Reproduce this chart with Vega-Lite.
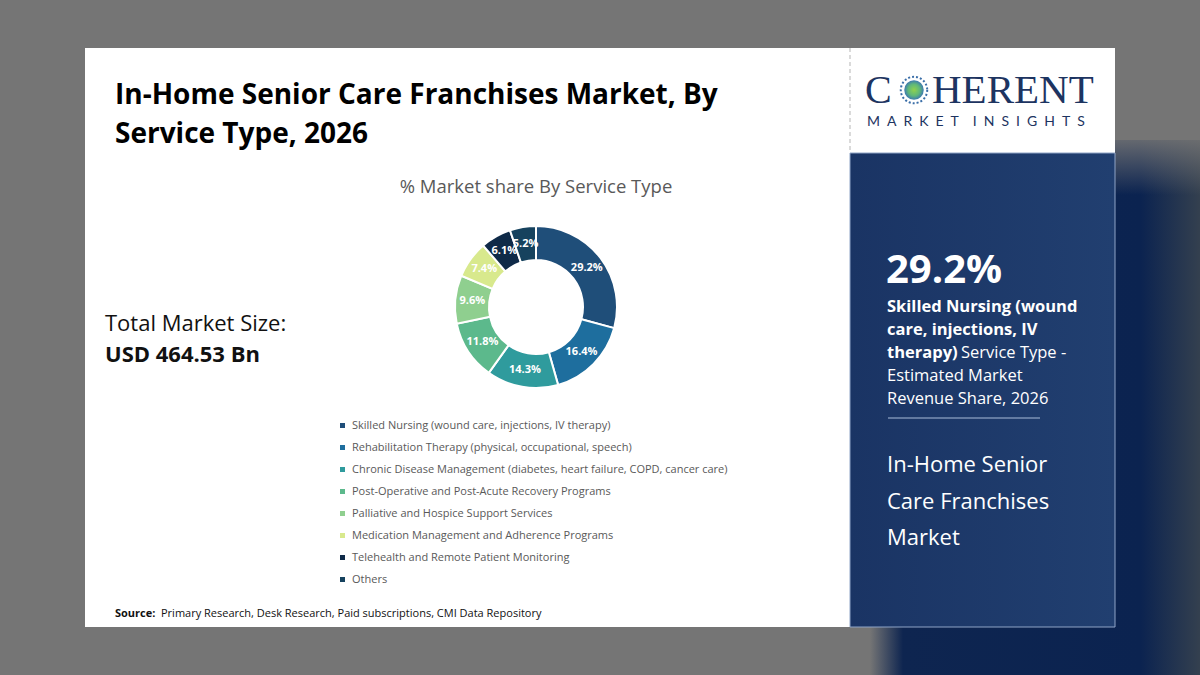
{
  "$schema": "https://vega.github.io/schema/vega-lite/v6.json",
  "width": 1200,
  "height": 675,
  "autosize": {"type": "fit", "contains": "padding"},
  "padding": 0,
  "background": "#757575",
  "config": {"view": {"stroke": null}, "axis": {"disable": true}, "font": "Open Sans"},
  "datasets": {
    "shares": [
      {"service": "Skilled Nursing (wound care, injections, IV therapy)", "share": 29.2, "label": "29.2%", "order": 1},
      {"service": "Rehabilitation Therapy (physical, occupational, speech)", "share": 16.4, "label": "16.4%", "order": 2},
      {"service": "Chronic Disease Management (diabetes, heart failure, COPD, cancer care)", "share": 14.3, "label": "14.3%", "order": 3},
      {"service": "Post-Operative and Post-Acute Recovery Programs", "share": 11.8, "label": "11.8%", "order": 4},
      {"service": "Palliative and Hospice Support Services", "share": 9.6, "label": "9.6%", "order": 5},
      {"service": "Medication Management and Adherence Programs", "share": 7.4, "label": "7.4%", "order": 6},
      {"service": "Telehealth and Remote Patient Monitoring", "share": 6.1, "label": "6.1%", "order": 7},
      {"service": "Others", "share": 5.2, "label": "5.2%", "order": 8}
    ],
    "one": [{}]
  },
  "layer": [
    {
      "data": {"name": "one"},
      "mark": {"type": "rect", "fill": {"gradient": "linear", "x1": 0, "y1": 0, "x2": 1, "y2": 0, "stops": [
        {"offset": 0, "color": "#757575"}, {"offset": 0.1, "color": "#0e2550"}, {"offset": 0.82, "color": "#0b2350"}, {"offset": 1, "color": "#34404f"}]}},
      "encoding": {
        "x": {"datum": 870, "type": "quantitative", "scale": {"domain": [0, 1200], "nice": false, "zero": false}},
        "x2": {"datum": 1200},
        "y": {"datum": 140, "type": "quantitative", "scale": {"domain": [0, 675], "nice": false, "zero": false, "reverse": true}},
        "y2": {"datum": 675}
      }
    },
    {
      "data": {"name": "one"},
      "mark": {"type": "rect", "fill": {"gradient": "linear", "x1": 0, "y1": 0, "x2": 0, "y2": 1, "stops": [
        {"offset": 0, "color": "#757575"}, {"offset": 1, "color": "rgba(117,117,117,0)"}]}},
      "encoding": {
        "x": {"datum": 870, "type": "quantitative", "scale": {"domain": [0, 1200], "nice": false, "zero": false}},
        "x2": {"datum": 1200},
        "y": {"datum": 130, "type": "quantitative", "scale": {"domain": [0, 675], "nice": false, "zero": false, "reverse": true}},
        "y2": {"datum": 195}
      }
    },
    {
      "data": {"name": "one"},
      "mark": {"type": "rect", "fill": "#ffffff"},
      "encoding": {
        "x": {"datum": 85, "type": "quantitative", "scale": {"domain": [0, 1200], "nice": false, "zero": false}},
        "x2": {"datum": 1115},
        "y": {"datum": 48, "type": "quantitative", "scale": {"domain": [0, 675], "nice": false, "zero": false, "reverse": true}},
        "y2": {"datum": 627}
      }
    },
    {
      "data": {"name": "one"},
      "mark": {"type": "rect", "stroke": "#8fa4c6", "strokeWidth": 1, "fill": {"gradient": "linear", "x1": 0, "y1": 0, "x2": 1, "y2": 0, "stops": [
        {"offset": 0, "color": "#1a3464"}, {"offset": 1, "color": "#213f70"}]}},
      "encoding": {
        "x": {"datum": 850, "type": "quantitative", "scale": {"domain": [0, 1200], "nice": false, "zero": false}},
        "x2": {"datum": 1115},
        "y": {"datum": 153, "type": "quantitative", "scale": {"domain": [0, 675], "nice": false, "zero": false, "reverse": true}},
        "y2": {"datum": 627}
      }
    },
    {
      "data": {"name": "one"},
      "mark": {"type": "rule", "color": "#b5b5b5", "strokeDash": [4, 3], "strokeWidth": 1},
      "encoding": {
        "x": {"datum": 850, "type": "quantitative", "scale": {"domain": [0, 1200], "nice": false, "zero": false}},
        "y": {"datum": 48, "type": "quantitative", "scale": {"domain": [0, 675], "nice": false, "zero": false, "reverse": true}},
        "y2": {"datum": 153}
      }
    },
    {
      "data": {"name": "one"},
      "mark": {"type": "text", "text": ["In-Home Senior Care Franchises Market, By", "Service Type, 2026"], "lineHeight": 39, "align": "left", "baseline": "alphabetic", "fontSize": 28, "fontWeight": "bold", "color": "#000000"},
      "encoding": {
        "x": {"datum": 115, "type": "quantitative", "scale": {"domain": [0, 1200], "nice": false, "zero": false}},
        "y": {"datum": 104, "type": "quantitative", "scale": {"domain": [0, 675], "nice": false, "zero": false, "reverse": true}}
      }
    },
    {
      "data": {"name": "one"},
      "mark": {"type": "text", "text": "% Market share By Service Type", "align": "center", "baseline": "alphabetic", "fontSize": 18.5, "color": "#595959"},
      "encoding": {
        "x": {"datum": 536, "type": "quantitative", "scale": {"domain": [0, 1200], "nice": false, "zero": false}},
        "y": {"datum": 193, "type": "quantitative", "scale": {"domain": [0, 675], "nice": false, "zero": false, "reverse": true}}
      }
    },
    {
      "data": {"name": "shares"},
      "mark": {"type": "arc", "innerRadius": 47, "outerRadius": 81, "stroke": "#ffffff", "strokeWidth": 2},
      "encoding": {
        "theta": {"field": "share", "type": "quantitative", "stack": true},
        "order": {"field": "order", "type": "quantitative"},
        "color": {
          "field": "service", "type": "nominal",
          "scale": {
            "domain": ["Skilled Nursing (wound care, injections, IV therapy)", "Rehabilitation Therapy (physical, occupational, speech)", "Chronic Disease Management (diabetes, heart failure, COPD, cancer care)", "Post-Operative and Post-Acute Recovery Programs", "Palliative and Hospice Support Services", "Medication Management and Adherence Programs", "Telehealth and Remote Patient Monitoring", "Others"],
            "range": ["#1f4e79", "#1e6e9e", "#2f9b9d", "#5cb98c", "#8fcf8f", "#d8e98d", "#0f2a48", "#16425e"]
          },
          "legend": {
            "orient": "none", "legendX": 337, "legendY": 420, "title": null,
            "symbolType": "square", "symbolSize": 25, "symbolStrokeWidth": 0,
            "labelFontSize": 11, "labelColor": "#595959", "labelLimit": 600, "labelOffset": 4,
            "rowPadding": 10
          }
        },
        "x": {"datum": 536, "type": "quantitative", "scale": {"domain": [0, 1200], "nice": false, "zero": false}},
        "y": {"datum": 307, "type": "quantitative", "scale": {"domain": [0, 675], "nice": false, "zero": false, "reverse": true}}
      }
    },
    {
      "data": {"name": "shares"},
      "mark": {"type": "text", "radius": 64, "fontSize": 11, "fontWeight": "bold", "color": "#ffffff"},
      "encoding": {
        "theta": {"field": "share", "type": "quantitative", "stack": true},
        "order": {"field": "order", "type": "quantitative"},
        "text": {"field": "label", "type": "nominal"},
        "x": {"datum": 536, "type": "quantitative", "scale": {"domain": [0, 1200], "nice": false, "zero": false}},
        "y": {"datum": 307, "type": "quantitative", "scale": {"domain": [0, 675], "nice": false, "zero": false, "reverse": true}}
      }
    },
    {
      "data": {"name": "one"},
      "mark": {"type": "text", "text": "Total Market Size:", "align": "left", "baseline": "alphabetic", "fontSize": 22, "color": "#111111"},
      "encoding": {
        "x": {"datum": 105, "type": "quantitative", "scale": {"domain": [0, 1200], "nice": false, "zero": false}},
        "y": {"datum": 331, "type": "quantitative", "scale": {"domain": [0, 675], "nice": false, "zero": false, "reverse": true}}
      }
    },
    {
      "data": {"name": "one"},
      "mark": {"type": "text", "text": "USD 464.53 Bn", "align": "left", "baseline": "alphabetic", "fontSize": 22, "fontWeight": "bold", "color": "#111111"},
      "encoding": {
        "x": {"datum": 105, "type": "quantitative", "scale": {"domain": [0, 1200], "nice": false, "zero": false}},
        "y": {"datum": 362, "type": "quantitative", "scale": {"domain": [0, 675], "nice": false, "zero": false, "reverse": true}}
      }
    },
    {
      "data": {"name": "one"},
      "mark": {"type": "text", "text": "Source:", "align": "left", "baseline": "alphabetic", "fontSize": 11, "fontWeight": "bold", "color": "#111111"},
      "encoding": {
        "x": {"datum": 115, "type": "quantitative", "scale": {"domain": [0, 1200], "nice": false, "zero": false}},
        "y": {"datum": 617, "type": "quantitative", "scale": {"domain": [0, 675], "nice": false, "zero": false, "reverse": true}}
      }
    },
    {
      "data": {"name": "one"},
      "mark": {"type": "text", "text": "Primary Research, Desk Research, Paid subscriptions, CMI Data Repository", "align": "left", "baseline": "alphabetic", "fontSize": 11, "color": "#111111"},
      "encoding": {
        "x": {"datum": 161, "type": "quantitative", "scale": {"domain": [0, 1200], "nice": false, "zero": false}},
        "y": {"datum": 617, "type": "quantitative", "scale": {"domain": [0, 675], "nice": false, "zero": false, "reverse": true}}
      }
    },
    {
      "data": {"name": "one"},
      "mark": {"type": "text", "text": "C", "align": "left", "baseline": "alphabetic", "fontSize": 40, "font": "Liberation Serif", "color": "#1d3461"},
      "encoding": {
        "x": {"datum": 865, "type": "quantitative", "scale": {"domain": [0, 1200], "nice": false, "zero": false}},
        "y": {"datum": 103, "type": "quantitative", "scale": {"domain": [0, 675], "nice": false, "zero": false, "reverse": true}}
      }
    },
    {
      "data": {"name": "one"},
      "mark": {"type": "text", "text": "HERENT", "align": "left", "baseline": "alphabetic", "fontSize": 41, "font": "Liberation Serif", "color": "#1d3461"},
      "encoding": {
        "x": {"datum": 932, "type": "quantitative", "scale": {"domain": [0, 1200], "nice": false, "zero": false}},
        "y": {"datum": 103, "type": "quantitative", "scale": {"domain": [0, 675], "nice": false, "zero": false, "reverse": true}}
      }
    },
    {
      "data": {"name": "one"},
      "mark": {"type": "point", "shape": "circle", "size": 700, "strokeWidth": 2, "strokeDash": [2, 2], "stroke": "#3a6ea8", "filled": false, "opacity": 1},
      "encoding": {
        "x": {"datum": 914, "type": "quantitative", "scale": {"domain": [0, 1200], "nice": false, "zero": false}},
        "y": {"datum": 90, "type": "quantitative", "scale": {"domain": [0, 675], "nice": false, "zero": false, "reverse": true}}
      }
    },
    {
      "data": {"name": "one"},
      "mark": {"type": "point", "shape": "circle", "size": 380, "filled": true, "opacity": 1, "fill": {"gradient": "radial", "stops": [{"offset": 0, "color": "#8fd14f"}, {"offset": 0.6, "color": "#5fb87a"}, {"offset": 1, "color": "#3d79b0"}]}},
      "encoding": {
        "x": {"datum": 914, "type": "quantitative", "scale": {"domain": [0, 1200], "nice": false, "zero": false}},
        "y": {"datum": 90, "type": "quantitative", "scale": {"domain": [0, 675], "nice": false, "zero": false, "reverse": true}}
      }
    },
    {
      "data": {"name": "one"},
      "mark": {"type": "text", "text": "M\u2002A\u2002R\u2002K\u2002E\u2002T\u2002\u2002I\u2002N\u2002S\u2002I\u2002G\u2002H\u2002T\u2002S", "align": "left", "baseline": "alphabetic", "fontSize": 14, "font": "Lato", "color": "#1d3461"},
      "encoding": {
        "x": {"datum": 867, "type": "quantitative", "scale": {"domain": [0, 1200], "nice": false, "zero": false}},
        "y": {"datum": 126, "type": "quantitative", "scale": {"domain": [0, 675], "nice": false, "zero": false, "reverse": true}}
      }
    },
    {
      "data": {"name": "one"},
      "mark": {"type": "text", "text": "29.2%", "align": "left", "baseline": "alphabetic", "fontSize": 40, "fontWeight": "bold", "color": "#ffffff"},
      "encoding": {
        "x": {"datum": 886, "type": "quantitative", "scale": {"domain": [0, 1200], "nice": false, "zero": false}},
        "y": {"datum": 283, "type": "quantitative", "scale": {"domain": [0, 675], "nice": false, "zero": false, "reverse": true}}
      }
    },
    {
      "data": {"name": "one"},
      "mark": {"type": "text", "text": ["Skilled Nursing (wound", "care, injections, IV", "therapy)"], "lineHeight": 23, "align": "left", "baseline": "alphabetic", "fontSize": 16.5, "fontWeight": "bold", "color": "#ffffff"},
      "encoding": {
        "x": {"datum": 887, "type": "quantitative", "scale": {"domain": [0, 1200], "nice": false, "zero": false}},
        "y": {"datum": 312, "type": "quantitative", "scale": {"domain": [0, 675], "nice": false, "zero": false, "reverse": true}}
      }
    },
    {
      "data": {"name": "one"},
      "mark": {"type": "text", "text": "Service Type -", "align": "left", "baseline": "alphabetic", "fontSize": 16.5, "color": "#ffffff"},
      "encoding": {
        "x": {"datum": 961, "type": "quantitative", "scale": {"domain": [0, 1200], "nice": false, "zero": false}},
        "y": {"datum": 358, "type": "quantitative", "scale": {"domain": [0, 675], "nice": false, "zero": false, "reverse": true}}
      }
    },
    {
      "data": {"name": "one"},
      "mark": {"type": "text", "text": ["Estimated Market", "Revenue Share, 2026"], "lineHeight": 23, "align": "left", "baseline": "alphabetic", "fontSize": 16.5, "color": "#ffffff"},
      "encoding": {
        "x": {"datum": 887, "type": "quantitative", "scale": {"domain": [0, 1200], "nice": false, "zero": false}},
        "y": {"datum": 381, "type": "quantitative", "scale": {"domain": [0, 675], "nice": false, "zero": false, "reverse": true}}
      }
    },
    {
      "data": {"name": "one"},
      "mark": {"type": "rule", "color": "#a9bcd9", "strokeWidth": 1},
      "encoding": {
        "x": {"datum": 888, "type": "quantitative", "scale": {"domain": [0, 1200], "nice": false, "zero": false}},
        "x2": {"datum": 1040},
        "y": {"datum": 418, "type": "quantitative", "scale": {"domain": [0, 675], "nice": false, "zero": false, "reverse": true}}
      }
    },
    {
      "data": {"name": "one"},
      "mark": {"type": "text", "text": ["In-Home Senior", "Care Franchises", "Market"], "lineHeight": 36.5, "align": "left", "baseline": "alphabetic", "fontSize": 22, "color": "#ffffff"},
      "encoding": {
        "x": {"datum": 887, "type": "quantitative", "scale": {"domain": [0, 1200], "nice": false, "zero": false}},
        "y": {"datum": 472, "type": "quantitative", "scale": {"domain": [0, 675], "nice": false, "zero": false, "reverse": true}}
      }
    }
  ]
}
